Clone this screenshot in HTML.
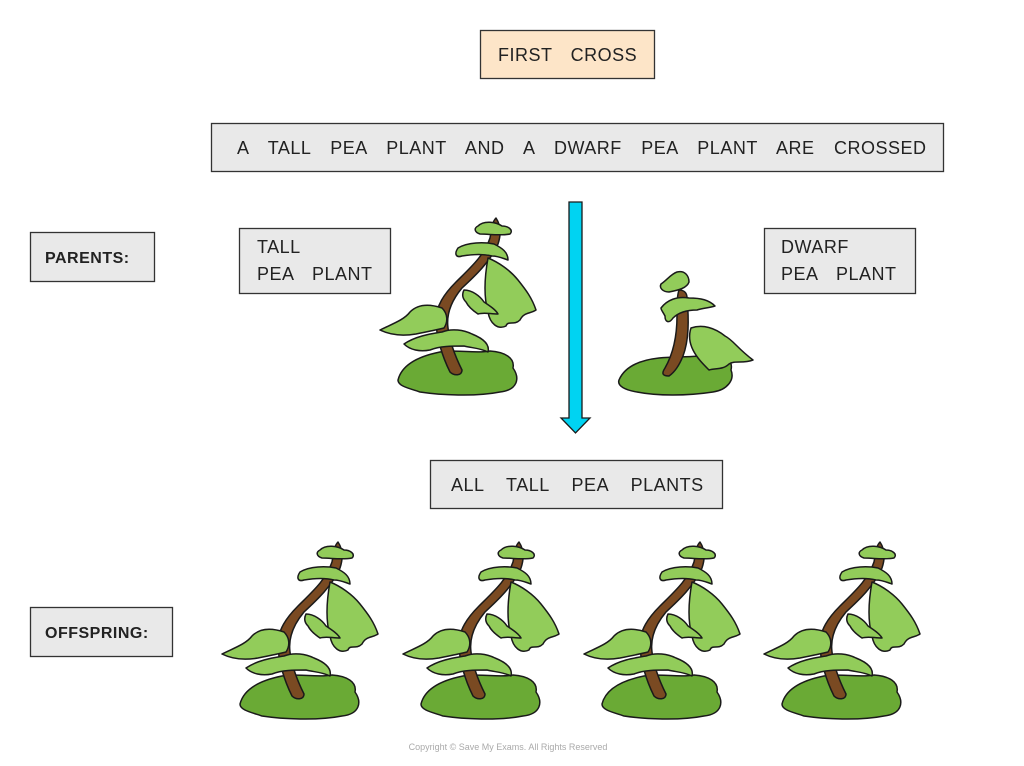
<!DOCTYPE html>
<html><head><meta charset="utf-8"><style>
html,body{margin:0;padding:0;background:#fff}
svg{display:block}
text{font-family:"Liberation Sans","DejaVu Sans",sans-serif;fill:#222;letter-spacing:0.5px;word-spacing:13px}
</style></head><body>
<svg width="1024" height="766" viewBox="0 0 1024 766" xmlns="http://www.w3.org/2000/svg">
<defs>
<g id="tall" stroke="#1a1a1a" stroke-width="1.5" stroke-linejoin="round">
  <path d="M18,162 C22,146 40,138 60,134 C78,131 95,136 110,133 C125,134 135,140 133,150 C140,160 138,172 120,174 C95,179 60,177 40,174 C28,170 18,168 18,162Z" fill="#6aaa35"/>
  <path d="M116,0 C120,6 122,14 118,26 C110,44 95,58 82,70 C72,82 66,95 68,110 C70,125 76,140 82,152 C82,158 74,158 70,154 C62,138 56,118 56,102 C56,88 64,76 76,64 C90,50 104,38 110,20 C112,10 112,4 116,0Z" fill="#7a4a22"/>
  <path d="M98,8 C104,2 116,4 122,8 C128,8 134,12 130,16 C120,18 110,16 100,16 C94,14 94,10 98,8Z" fill="#92cc5a"/>
  <path d="M78,30 C88,24 104,24 114,26 C122,30 128,34 128,42 C122,40 118,38 112,38 C104,36 94,36 82,38 C76,40 74,36 78,30Z" fill="#92cc5a"/>
  <path d="M108,40 C118,44 130,52 138,62 C146,72 152,80 156,92 C150,96 144,94 140,102 C134,108 128,102 126,108 C118,112 110,106 108,94 C104,80 104,62 108,40Z" fill="#92cc5a"/>
  <path d="M84,72 C92,72 100,78 104,84 C110,88 116,92 118,96 C110,96 104,94 98,96 C92,92 88,88 86,84 C82,80 82,76 84,72Z" fill="#92cc5a"/>
  <path d="M0,112 C12,106 24,102 30,94 C38,86 50,86 62,90 C68,96 68,104 64,110 C56,112 46,114 36,116 C24,118 12,118 0,112Z" fill="#92cc5a"/>
  <path d="M24,126 C36,118 50,116 62,114 C72,110 84,112 92,116 C102,120 110,126 108,134 C100,130 92,130 84,128 C72,128 60,128 50,132 C40,134 30,132 24,126Z" fill="#92cc5a"/>
</g>
<g id="dwarf" stroke="#1a1a1a" stroke-width="1.5" stroke-linejoin="round">
  <path d="M2,110 C8,96 24,90 42,88 C60,86 78,88 96,84 C110,84 116,92 114,100 C118,110 110,120 96,122 C70,126 40,126 20,122 C8,120 0,116 2,110Z" fill="#6aaa35"/>
  <path d="M62,20 C66,20 70,22 70,28 C72,50 72,70 66,86 C62,96 58,102 52,106 C46,106 44,104 48,98 C56,84 60,66 60,46 C60,34 60,26 62,20Z" fill="#7a4a22"/>
  <path d="M44,14 C50,10 54,4 60,2 C68,0 72,6 72,12 C70,18 62,20 52,22 C46,22 42,18 44,14Z" fill="#92cc5a"/>
  <path d="M44,38 C50,30 60,26 72,28 C84,28 92,30 98,36 C92,38 86,38 80,40 C70,40 62,42 56,48 C52,54 48,52 48,46 C46,42 44,40 44,38Z" fill="#92cc5a"/>
  <path d="M74,58 C86,54 98,58 108,66 C116,70 120,78 136,90 C126,94 118,90 112,94 C106,100 98,98 92,100 C86,94 80,88 76,80 C72,72 72,64 74,58Z" fill="#92cc5a"/>
</g>
</defs>

<rect x="480.5" y="30.5" width="174" height="48" fill="#fde5c8" stroke="#333" stroke-width="1.3"/>
<text x="498" y="61" font-size="18">FIRST CROSS</text>

<rect x="211.5" y="123.5" width="732" height="48" fill="#e9e9e9" stroke="#333" stroke-width="1.3"/>
<text x="237" y="154" font-size="18" style="word-spacing:14px">A TALL PEA PLANT AND A DWARF PEA PLANT ARE CROSSED</text>

<rect x="30.5" y="232.5" width="124" height="49" fill="#e9e9e9" stroke="#333" stroke-width="1.3"/>
<text x="45" y="263" font-size="16" font-weight="bold">PARENTS:</text>

<rect x="239.5" y="228.5" width="151" height="65" fill="#e9e9e9" stroke="#333" stroke-width="1.3"/>
<text x="257" y="253" font-size="18">TALL</text>
<text x="257" y="280" font-size="18">PEA PLANT</text>

<rect x="764.5" y="228.5" width="151" height="65" fill="#e9e9e9" stroke="#333" stroke-width="1.3"/>
<text x="781" y="253" font-size="18">DWARF</text>
<text x="781" y="280" font-size="18">PEA PLANT</text>

<path d="M569,202 L582,202 L582,418 L590,418 L575.5,433 L561,418 L569,418Z" fill="#00d3f2" stroke="#1a1a1a" stroke-width="1.3"/>

<rect x="430.5" y="460.5" width="292" height="48" fill="#e9e9e9" stroke="#333" stroke-width="1.3"/>
<text x="451" y="491" font-size="18" style="word-spacing:17px">ALL TALL PEA PLANTS</text>

<rect x="30.5" y="607.5" width="142" height="49" fill="#e9e9e9" stroke="#333" stroke-width="1.3"/>
<text x="45" y="638" font-size="16" font-weight="bold">OFFSPRING:</text>

<use href="#tall" x="380" y="218"/>
<use href="#dwarf" x="617" y="270"/>
<use href="#tall" x="222" y="542"/>
<use href="#tall" x="403" y="542"/>
<use href="#tall" x="584" y="542"/>
<use href="#tall" x="764" y="542"/>

<text x="508" y="750" font-size="9" text-anchor="middle" style="fill:#aaa;letter-spacing:0;word-spacing:0">Copyright © Save My Exams. All Rights Reserved</text>
</svg>
</body></html>
